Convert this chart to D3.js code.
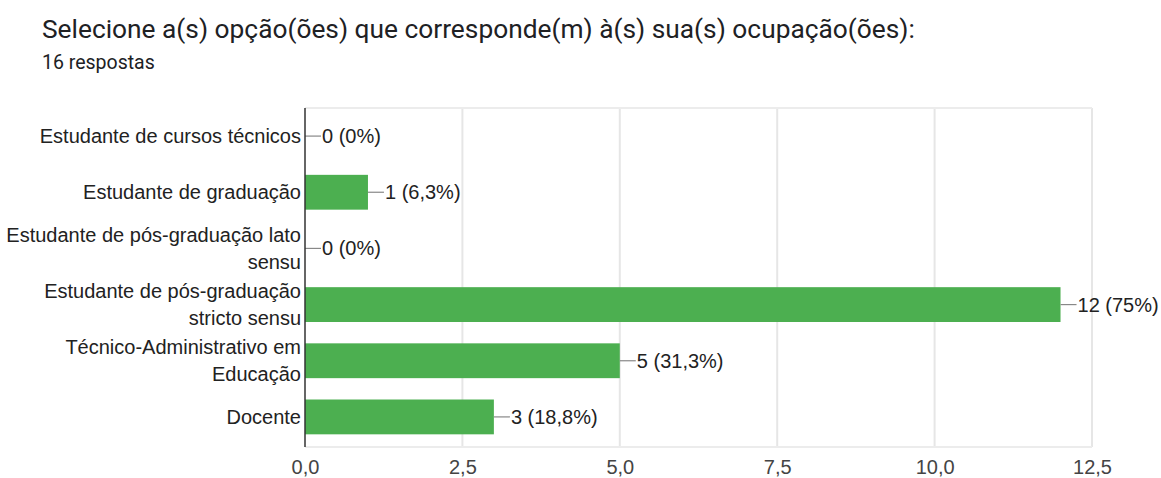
<!DOCTYPE html>
<html>
<head>
<meta charset="utf-8">
<script src="https://cdn.jsdelivr.net/npm/d3@7"></script>
<style>
  body { margin: 0; background: #fff; }
  text { font-family: "Liberation Sans", Arial, sans-serif; }
</style>
</head>
<body>
<script>
var categories = [
  'Estudante de cursos técnicos',
  'Estudante de graduação',
  'Estudante de pós-graduação lato sensu',
  'Estudante de pós-graduação stricto sensu',
  'Técnico-Administrativo em Educação',
  'Docente'
];
var counts = [0, 1, 0, 12, 5, 3];
var percents = ['0%', '6,3%', '0%', '75%', '31,3%', '18,8%'];
var ticks = [0, 2.5, 5, 7.5, 10, 12.5];

var w = 1161,
    h = 478;
var margin = {top: 108, right: 69, bottom: 33, left: 305};

var svg = d3.select('body')
  .append('svg')
  .attr('width', w)
  .attr('height', h);

svg.append('text')
  .attr('x', 42)
  .attr('y', 38)
  .style('font-family', 'Roboto, sans-serif')
  .style('font-size', '26.3px')
  .attr('fill', '#202124')
  .text('Selecione a(s) opção(ões) que corresponde(m) à(s) sua(s) ocupação(ões):');

svg.append('text')
  .attr('x', 42)
  .attr('y', 69)
  .style('font-family', 'Roboto, sans-serif')
  .style('font-size', '19.5px')
  .attr('fill', '#202124')
  .text('16 respostas');

var x = d3.scaleLinear()
  .domain([0, 12.5])
  .range([margin.left, w - margin.right]);

var y = d3.scaleBand()
  .domain(categories)
  .range([margin.top, h - margin.bottom])
  .paddingInner(0.38)
  .paddingOuter(0.19);

// grid
svg.append('g')
  .selectAll('line')
  .data(ticks.slice(1))
  .enter().append('line')
  .attr('x1', function(d) { return x(d); })
  .attr('x2', function(d) { return x(d); })
  .attr('y1', margin.top)
  .attr('y2', h - margin.bottom + 2)
  .attr('stroke', '#e6e6e6')
  .attr('stroke-width', 2);

svg.append('line')
  .attr('x1', margin.left)
  .attr('x2', x(12.5))
  .attr('y1', margin.top)
  .attr('y2', margin.top)
  .attr('stroke', '#ececec')
  .attr('stroke-width', 2);

svg.append('line')
  .attr('x1', margin.left)
  .attr('x2', x(12.5))
  .attr('y1', h - margin.bottom + 2)
  .attr('y2', h - margin.bottom + 2)
  .attr('stroke', '#ececec')
  .attr('stroke-width', 2);

// x axis labels
var xAxis = d3.axisBottom(x)
  .tickValues(ticks)
  .tickSize(0)
  .tickPadding(15)
  .tickFormat(function(d) { return d3.format('.1f')(d).replace('.', ','); });

var gx = svg.append('g')
  .attr('transform', 'translate(0,' + (h - margin.bottom) + ')')
  .call(xAxis);
gx.select('.domain').remove();
gx.selectAll('text')
  .style('font-family', '"Liberation Sans", Arial, sans-serif')
  .style('font-size', '20px')
  .attr('fill', '#444');

// bars
svg.append('g')
  .selectAll('rect')
  .data(counts)
  .enter().append('rect')
  .attr('x', x(0))
  .attr('y', function(d, i) { return y(categories[i]); })
  .attr('width', function(d) { return x(d) - x(0); })
  .attr('height', y.bandwidth())
  .attr('fill', '#4caf50');

// leader lines and value labels
svg.append('g')
  .selectAll('line')
  .data(counts)
  .enter().append('line')
  .attr('x1', function(d) { return x(d); })
  .attr('x2', function(d) { return x(d) + 16; })
  .attr('y1', function(d, i) { return y(categories[i]) + y.bandwidth() / 2; })
  .attr('y2', function(d, i) { return y(categories[i]) + y.bandwidth() / 2; })
  .attr('stroke', '#888')
  .attr('stroke-width', 1.2);

svg.append('g')
  .selectAll('text')
  .data(counts)
  .enter().append('text')
  .attr('x', function(d) { return x(d) + 17; })
  .attr('y', function(d, i) { return y(categories[i]) + y.bandwidth() / 2; })
  .attr('dy', '0.35em')
  .style('font-size', '20px')
  .attr('fill', '#222')
  .text(function(d, i) { return d + ' (' + percents[i] + ')'; });

// y axis line
svg.append('line')
  .attr('x1', x(0))
  .attr('x2', x(0))
  .attr('y1', margin.top)
  .attr('y2', h - margin.bottom + 2)
  .attr('stroke', '#333')
  .attr('stroke-width', 1.5);

// category labels, wrapped
var maxWidth = 298;
var lineHeight = 27;
var labels = svg.append('g')
  .selectAll('text')
  .data(categories)
  .enter().append('text')
  .attr('text-anchor', 'end')
  .style('font-size', '20px')
  .attr('fill', '#222');

labels.each(function(d) {
  var t = d3.select(this);
  var words = d.split(' ');
  var lines = [];
  var cur = [];
  var probe = t.append('tspan');
  words.forEach(function(wd) {
    var test = cur.concat([wd]).join(' ');
    probe.text(test);
    if (probe.node().getComputedTextLength() > maxWidth && cur.length) {
      lines.push(cur.join(' '));
      cur = [wd];
    } else {
      cur.push(wd);
    }
  });
  lines.push(cur.join(' '));
  probe.remove();
  var cy = y(d) + y.bandwidth() / 2;
  var startY = cy - (lines.length - 1) * lineHeight / 2;
  lines.forEach(function(ln, k) {
    t.append('tspan')
      .attr('x', x(0) - 4)
      .attr('y', startY + k * lineHeight)
      .attr('dy', '0.35em')
      .text(ln);
  });
});
</script>
</body>
</html>
